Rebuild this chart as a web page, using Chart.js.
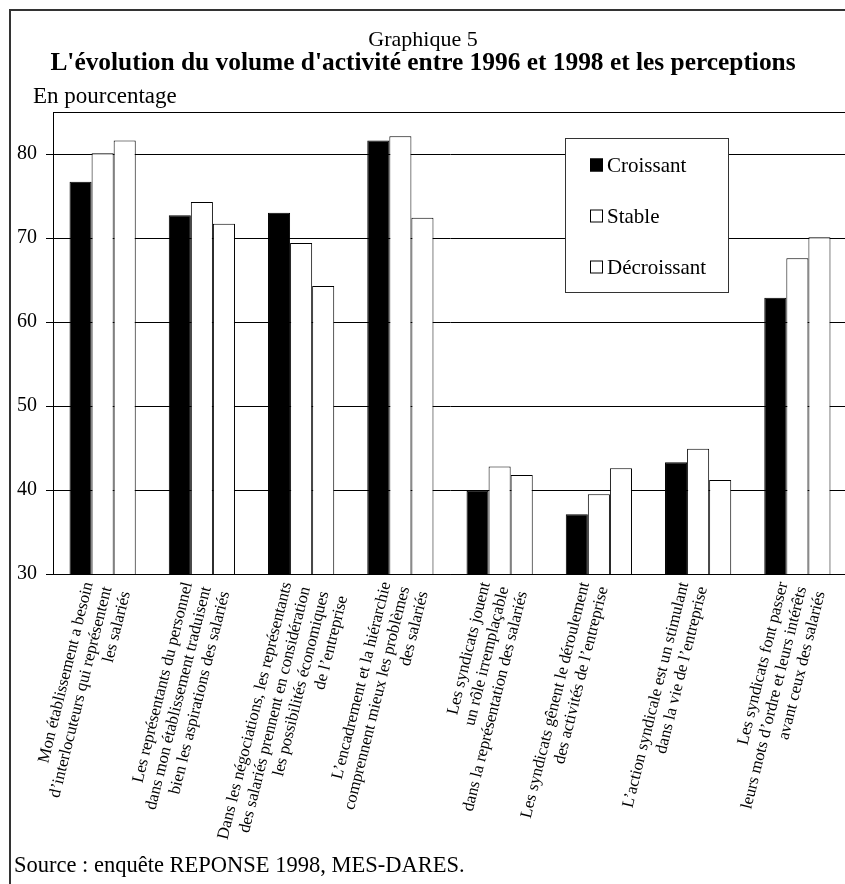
<!DOCTYPE html>
<html lang="fr">
<head>
<meta charset="utf-8">
<title>Graphique 5</title>
<script src="https://cdn.jsdelivr.net/npm/chart.js@4.4.1/dist/chart.umd.min.js"></script>
<style>
  html, body { margin: 0; padding: 0; background: #fff; overflow: hidden; }
  #wrap { position: relative; width: 845px; height: 884px; overflow: hidden; }
  canvas { display: block; }
</style>
</head>
<body>
<div id="wrap"><canvas id="chart" width="860" height="884"></canvas></div>
<script>
// Opinions (in %) by change in activity volume between 1996 and 1998
const categories = [
  ["Mon établissement a besoin", "d’interlocuteurs qui représentent", "les salariés"],
  ["Les représentants du personnel", "dans mon établissement traduisent", "bien les aspirations des salariés"],
  ["Dans les négociations, les représentants", "des salariés prennent en considération", "les possibilités économiques", "de l’entreprise"],
  ["L’encadrement et la hiérarchie", "comprennent mieux les problèmes", "des salariés"],
  ["Les syndicats jouent", "un rôle irremplaçable", "dans la représentation des salariés"],
  ["Les syndicats gênent le déroulement", "des activités de l’entreprise"],
  ["L’action syndicale est un stimulant", "dans la vie de l’entreprise"],
  ["Les syndicats font passer", "leurs mots d’ordre et leurs intérêts", "avant ceux des salariés"]
];
const seriesNames = ["Croissant", "Stable", "Décroissant"];
const croissant   = [76.7, 72.7, 73.0, 81.6, 39.9, 37.1, 43.3, 62.9];
const stable      = [80.1, 74.3, 69.4, 82.1, 42.8, 39.5, 44.9, 67.6];
const decroissant = [81.6, 71.7, 64.3, 72.4, 41.8, 42.6, 41.2, 70.1];
const yTicks = [30, 40, 50, 60, 70, 80];
const yMin = 30;
const yMax = 85;

const SERIF = '"Liberation Serif", "Times New Roman", Times, serif';

// Page frame, headings, source line and the top edge of the plot box
const pageDecor = {
  id: 'pageDecor',
  beforeDraw(chart) {
    const ctx = chart.ctx;
    ctx.save();
    ctx.fillStyle = '#fff';
    ctx.fillRect(0, 0, chart.width, chart.height);
    ctx.restore();
  },
  afterDraw(chart) {
    const ctx = chart.ctx;
    const a = chart.chartArea;
    ctx.save();
    ctx.strokeStyle = '#333';
    ctx.lineWidth = 2;
    ctx.strokeRect(10, 10, 900, 920);

    ctx.strokeStyle = '#000';
    ctx.lineWidth = 1;
    ctx.beginPath();
    ctx.moveTo(a.left, Math.round(a.top) + 0.5);
    ctx.lineTo(a.right, Math.round(a.top) + 0.5);
    ctx.stroke();

    ctx.fillStyle = '#000';
    ctx.textBaseline = 'middle';
    ctx.textAlign = 'center';
    ctx.font = '22px ' + SERIF;
    ctx.fillText('Graphique 5', 423, 40);
    ctx.font = 'bold 25.4px ' + SERIF;
    ctx.fillText("L'évolution du volume d'activité entre 1996 et 1998 et les perceptions", 423, 63);
    ctx.textAlign = 'left';
    ctx.font = '23px ' + SERIF;
    ctx.fillText('En pourcentage', 33, 97);
    ctx.font = '22.5px ' + SERIF;
    ctx.fillText('Source : enquête REPONSE 1998, MES-DARES.', 14, 866);
    ctx.restore();
  }
};

// Boxed legend inside the plot area
const boxLegend = {
  id: 'boxLegend',
  afterDatasetsDraw(chart) {
    const ctx = chart.ctx;
    const box = { x: 565, y: 138, w: 163, h: 154 };
    ctx.save();
    ctx.fillStyle = '#fff';
    ctx.fillRect(box.x, box.y, box.w, box.h);
    ctx.strokeStyle = '#333';
    ctx.lineWidth = 1;
    ctx.strokeRect(box.x + 0.5, box.y + 0.5, box.w, box.h);
    ctx.font = '21px ' + SERIF;
    ctx.textBaseline = 'middle';
    ctx.textAlign = 'left';
    chart.data.datasets.forEach((ds, i) => {
      const cy = box.y + 27 + i * 51;
      ctx.fillStyle = ds.backgroundColor;
      ctx.fillRect(590, cy - 6.5, 13, 13);
      ctx.strokeStyle = '#000';
      ctx.strokeRect(590.5, cy - 6, 12, 12);
      ctx.fillStyle = '#000';
      ctx.fillText(ds.label, 607, cy + 1);
    });
    ctx.restore();
  }
};

const fills = ['#000', '#fff', '#fff'];
const seriesValues = [croissant, stable, decroissant];

new Chart(document.getElementById('chart'), {
  type: 'bar',
  data: {
    labels: categories,
    datasets: seriesNames.map((name, i) => ({
      label: name,
      data: seriesValues[i],
      backgroundColor: fills[i],
      borderColor: '#000',
      borderWidth: 1,
      categoryPercentage: 0.667,
      barPercentage: 1.0
    }))
  },
  options: {
    responsive: false,
    animation: false,
    devicePixelRatio: 1,
    layout: { padding: { top: 112, left: 0, right: 11.5, bottom: 0 } },
    plugins: {
      legend: { display: false },
      title: { display: false },
      tooltip: { enabled: false }
    },
    scales: {
      x: {
        type: 'category',
        grid: { display: false, drawTicks: false },
        border: { display: true, color: '#000', width: 1 },
        ticks: {
          color: '#000',
          font: { family: SERIF, size: 16.7, lineHeight: 1.15 },
          minRotation: 76,
          maxRotation: 76,
          autoSkip: false,
          padding: 6,
          labelOffset: -14
        },
        afterFit(scale) { scale.height = 310; }
      },
      y: {
        min: yMin,
        max: yMax,
        grid: { color: '#000', lineWidth: 1, drawTicks: true, tickLength: 7 },
        border: { display: true, color: '#000', width: 1 },
        ticks: {
          color: '#000',
          font: { family: SERIF, size: 20 },
          padding: 9,
          includeBounds: false
        },
        afterBuildTicks(scale) { scale.ticks = yTicks.map(v => ({ value: v })); },
        afterFit(scale) { scale.width = 53; }
      }
    }
  },
  plugins: [pageDecor, boxLegend]
});
</script>
</body>
</html>
